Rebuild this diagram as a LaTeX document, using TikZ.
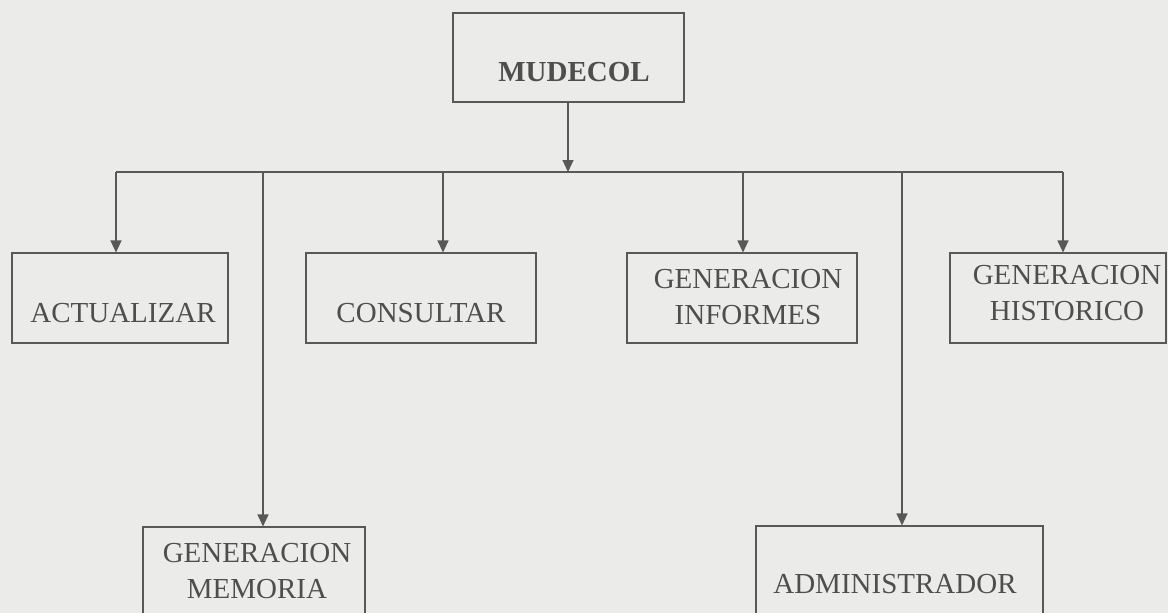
\documentclass[tikz,border=0pt]{standalone}
\usepackage{fontspec}
\setmainfont{Liberation Serif}
\usetikzlibrary{arrows.meta}
\definecolor{paper}{RGB}{235,235,233}
\definecolor{ink}{RGB}{88,88,88}
\definecolor{txt}{RGB}{78,78,78}
\begin{document}
\begin{tikzpicture}[x=1pt,y=-1pt,
  box/.style={draw=ink, line width=1.1pt, rectangle, inner sep=0pt},
  lbl/.style={text=txt, font=\fontsize{29}{36}\selectfont, align=center, inner sep=0pt},
  arr/.style={draw=ink, line width=1.1pt, -{Triangle[length=12pt,width=11pt]}},
  bus/.style={draw=ink, line width=2pt}
  ]
\fill[paper] (0,0) rectangle (1168,613);
\clip (0,0) rectangle (1168,613);
% boxes
\node[box, minimum width=231pt, minimum height=89pt] (mud) at (568.5,57.5) {};
\node[box, minimum width=216pt, minimum height=90pt] (act) at (120,298) {};
\node[box, minimum width=230pt, minimum height=90pt] (con) at (421,298) {};
\node[box, minimum width=230pt, minimum height=90pt] (inf) at (742,298) {};
\node[box, minimum width=216pt, minimum height=90pt] (his) at (1058,298) {};
\node[box, minimum width=222pt, minimum height=113pt] (gm) at (254,583.5) {};
\node[box, minimum width=287pt, minimum height=114pt] (adm) at (899.5,583) {};
% labels
\node[lbl, font=\fontsize{29}{35}\selectfont\bfseries] (mudt) at (574,72) {MUDECOL};
\node[lbl] (actt) at (123,313) {ACTUALIZAR};
\node[lbl] (cont) at (421,313) {CONSULTAR};
\node[lbl] (inft) at (748,297.5) {GENERACION\\INFORMES};
\node[lbl] (hist) at (1067,293.5) {GENERACION\\HISTORICO};
\node[lbl] (gmt) at (257,571.5) {GENERACION\\MEMORIA};
\node[lbl] (admt) at (895,584) {ADMINISTRADOR};
% bus
\coordinate (ba) at (116,172);
\coordinate (bm) at (568,172);
\coordinate (bg) at (263,172);
\coordinate (bc) at (443,172);
\coordinate (bi) at (743,172);
\coordinate (bd) at (902,172);
\coordinate (bh) at (1063,172);
\draw[bus] (ba) -- (bh);
\draw[arr] (mud.south -| bm) -- (bm);
\draw[arr] (ba) -- (ba |- act.north);
\draw[arr] (bg) -- (bg |- gm.north);
\draw[arr] (bc) -- (bc |- con.north);
\draw[arr] (bi) -- (bi |- inf.north);
\draw[arr] (bd) -- (bd |- adm.north);
\draw[arr] (bh) -- (bh |- his.north);
\end{tikzpicture}
\end{document}
